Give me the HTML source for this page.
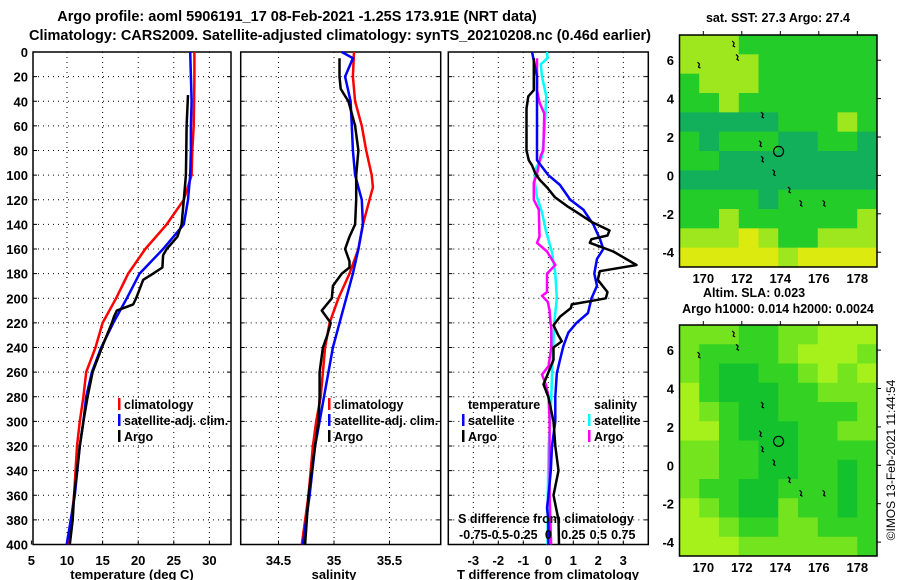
<!DOCTYPE html>
<html><head><meta charset="utf-8"><style>
html,body{margin:0;padding:0;background:#fff}
svg{display:block;font-family:"Liberation Sans",sans-serif;font-weight:bold}
</style></head><body>
<svg id="fig" width="900" height="580" viewBox="0 0 900 580">
<text x="297" y="21" font-size="14.5" text-anchor="middle">Argo profile: aoml 5906191_17 08-Feb-2021 -1.25S 173.91E (NRT data)</text>
<text x="29" y="40" font-size="14.5" textLength="622" lengthAdjust="spacingAndGlyphs">Climatology: CARS2009. Satellite-adjusted climatology: synTS_20210208.nc (0.46d earlier)</text>
<g id="g1"></g>
<g id="g2"></g>
<g id="g3"></g>
<g id="m1"></g>
<g id="m2"></g>
<text x="778" y="22" font-size="12.5" text-anchor="middle">sat. SST: 27.3 Argo: 27.4</text>
<text x="703" y="297" font-size="12.5">Altim. SLA: 0.023</text>
<text x="778" y="313" font-size="12.5" text-anchor="middle">Argo h1000: 0.014 h2000: 0.0024</text>
<text transform="translate(895,460) rotate(-90)" font-size="12" font-weight="normal" text-anchor="middle">©IMOS 13-Feb-2021 11:44:54</text>
</svg>
<script>
// ---------- data ----------
const depthTicks=[0,20,40,60,80,100,120,140,160,180,200,220,240,260,280,300,320,340,360,380,400];
const tTicks=[5,10,15,20,25,30];
const sTicks=[34.5,35,35.5];
const dTicks=[-3,-2,-1,0,1,2,3];
const sdTicks=[-0.75,-0.5,-0.25,0,0.25,0.5,0.75];
const sdTickLabels=["-0.75","-0.5","-0.25","0","0.25","0.5","0.75"];

const tClimDepth=[0,20,40,60,80,100,120,140,160,180,200,220,240,260,280,300,320,360,400];
const tClim=[27.9,27.9,27.85,27.8,27.6,27.5,26.4,24.0,21.0,18.6,16.9,15.0,14.0,12.7,12.3,11.8,11.4,11.0,10.2];
const tSat=[27.3,27.4,27.5,27.4,27.4,27.3,27.0,26.4,23.5,20.2,18.4,16.5,14.8,13.5,12.7,12.3,11.8,11.1,9.96];
const tArgoDepth=[35,60,80,100,120,140,150,160,165,175,180,185,200,205,210,215,220,240,260,280,300,320,340,360,380,400];
const tArgo=[27.0,26.8,26.75,26.7,26.4,26.1,25.5,24.0,23.5,23.4,22.1,20.7,19.7,19.3,17.0,16.6,16.3,14.9,13.6,12.9,12.3,11.8,11.4,11.0,10.8,10.4];

const sClimDepth=[0,20,40,60,80,100,110,120,140,160,180,200,220,240,260,280,300,320,360,400];
const sClim=[35.18,35.17,35.19,35.25,35.29,35.34,35.35,35.32,35.26,35.22,35.14,35.04,34.96,34.92,34.9,34.88,34.84,34.81,34.77,34.71];
const sSatDepth=[0,5,20,40,60,80,100,120,140,160,180,200,220,240,280,300,320,360,400];
const sSat=[35.07,35.17,35.10,35.15,35.16,35.17,35.19,35.25,35.26,35.22,35.17,35.11,35.05,34.99,34.91,34.87,34.83,34.78,34.72];
const sArgoDepth=[5,20,30,40,50,60,80,100,120,140,150,160,170,175,180,190,200,210,220,230,240,260,280,300,320,360,400];
const sArgo=[35.05,35.05,35.06,35.13,35.16,35.19,35.22,35.2,35.2,35.19,35.14,35.10,35.14,35.14,35.07,34.99,34.98,34.89,34.97,34.94,34.90,34.87,34.87,34.86,34.83,34.77,34.74];

const dTArgoDepth=[5,31,36,46,80,88,92,99,104,110,118,125,130,138,145,149,152,155,162,173,178,185,195,200,202,205,208,215,222,230,235,240,250,260,270,280,300,320,340,360,380,400];
const dTArgo=[-0.58,-0.58,-0.8,-0.87,-0.87,-0.78,-0.65,-0.51,-0.33,-0.05,0.27,0.74,1.13,1.73,2.45,2.37,1.73,1.66,2.6,3.53,2.06,1.98,2.37,2.3,1.78,0.94,0.9,0.47,0.21,0.40,0.54,0.21,0.21,0.01,-0.19,0.0,0.21,0.28,0.41,0.21,0.41,0.43];
const dTSatDepth=[0,5,20,40,60,80,88,92,100,108,120,128,140,152,160,168,180,190,200,212,220,228,239,250,261,280,300,320,340,360,370,380,400];
const dTSat=[-0.65,-0.6,-0.45,-0.45,-0.45,-0.45,-0.45,-0.3,0.0,0.47,0.88,1.4,1.8,2.07,2.2,1.95,1.84,1.95,1.73,1.59,1.13,0.8,0.6,0.47,0.34,0.28,0.28,0.15,0.1,0.01,-0.05,0.0,0.0];
const dSSatDepth=[0,5,10,20,36,64,85,95,104,118,130,145,163,180,200,220,260,280,300,320,360,400];
const dSSat=[-0.013,-0.008,-0.075,-0.063,-0.02,-0.038,-0.063,-0.128,-0.138,-0.113,-0.063,-0.025,0.038,0.07,0.085,0.06,0.038,0.03,0.02,0.003,-0.005,-0.008];
const dSArgoDepth=[5,31,41,50,80,84,99,106,120,128,150,155,162,173,180,195,198,203,210,218,225,240,255,262,270,280,300,320,360,400];
const dSArgo=[-0.113,-0.113,-0.088,-0.04,-0.05,-0.075,-0.113,-0.145,-0.145,-0.095,-0.088,-0.113,-0.013,0.07,-0.013,-0.013,-0.063,-0.005,0.013,0.02,0.03,0.03,0.003,-0.063,-0.025,0.003,0.013,0.013,0.013,0.028];

const lonTicks=[170,172,174,176,178];
const latTicks=[-4,-2,0,2,4,6];
const argoLon=173.91, argoLat=1.25;
const sstGrid=["YYYGGGGGGG","YYYYGGGGGG","GYYYGGGGGG","GGYGGGGGGG","TTTTTGGGYG","GTGGGTTGGT","GGTTTTTTTT","TTTTTTTTTT","GGGGTGGGGG","GGYGGGGGGY","YYYLYGGYYY","LLLLLYLLLL"];
const slaGrid=["BBBCCBBAAA","BCCCCBAAAB","BCDDCCBABA","ACDDDCCBBB","ABCDDCCCCB","AACDDDCCBB","BBCCDDCCCC","BBCCDDCCDC","BCCDDCCCDC","ABCDDBCCDC","AABCCBBCCC","AAABBBBBBC"];

// ---------- helpers ----------
const NS="http://www.w3.org/2000/svg";
function mk(parent,tag,attrs){const e=document.createElementNS(NS,tag);for(const k in attrs)e.setAttribute(k,attrs[k]);parent.appendChild(e);return e;}
const yTop=52, yBot=544.5;
const yD=d=>yTop+(d/400)*(yBot-yTop);

function panel(g,x0,x1,xScale,xt,xtLabels,leftLabels){
  depthTicks.forEach(d=>{ if(d>0&&d<400){const l=mk(g,'line',{x1:x0,x2:x1,y1:yD(d),y2:yD(d),stroke:'#000','stroke-width':1,'stroke-dasharray':'1 4'});
    }
    mk(g,'line',{x1:x0,x2:x0+4,y1:yD(d),y2:yD(d),stroke:'#000'});mk(g,'line',{x1:x1-4,x2:x1,y1:yD(d),y2:yD(d),stroke:'#000'});
    if(leftLabels){const t=mk(g,'text',{x:28,y:yD(d)+5,'font-size':13,'text-anchor':'end'});t.textContent=d;
      }
  });
  xt.forEach((v,i)=>{const x=xScale(v);
    if(x>x0+2&&x<x1-2){const l=mk(g,'line',{x1:x,x2:x,y1:yTop,y2:yBot,stroke:'#000','stroke-dasharray':'1 4'});
      }
    mk(g,'line',{x1:x,x2:x,y1:yBot-4,y2:yBot,stroke:'#000'});
    const t=mk(g,'text',{x:x,y:565,'font-size':13,'text-anchor':'middle'});t.textContent=xtLabels[i];
    
  });
  const r=mk(g,'rect',{x:x0,y:yTop,width:x1-x0,height:yBot-yTop,fill:'none',stroke:'#000','stroke-width':1.5});
  
}
function line(g,depths,vals,xs,color,name,w){
  const pts=depths.map((d,i)=>xs(vals[i]).toFixed(1)+','+yD(d).toFixed(1)).join(' ');
  const p=mk(g,'polyline',{points:pts,fill:'none',stroke:color,'stroke-width':w||2.5,'stroke-linejoin':'round'});
  
}
function legendEntry(g,x,y,color,label,name){
  mk(g,'rect',{x:x,y:y-11,width:2.5,height:12,fill:color});
  const t=mk(g,'text',{x:x+6,y:y,'font-size':12.5});t.textContent=label;
  
}
function label(g,x,y,txt,name,size){const t=mk(g,'text',{x:x,y:y,'font-size':size||13,'text-anchor':'middle'});t.textContent=txt;
  }

// ---------- panel 1: temperature ----------
const g1=document.getElementById('g1');
const xT=v=>67+(v-10)*7.12;
panel(g1,33,231,xT,tTicks,tTicks.map(String),true);
line(g1,tClimDepth,tClim,xT,'#f00','temp-climatology-line');
line(g1,tClimDepth,tSat,xT,'#00f','temp-satellite-line');
line(g1,tArgoDepth,tArgo,xT,'#000','temp-argo-line');
legendEntry(g1,118,409,'#f00','climatology','legend-climatology');
legendEntry(g1,118,425,'#00f','satellite-adj. clim.','legend-satellite');
legendEntry(g1,118,441,'#000','Argo','legend-argo');
label(g1,132,579,'temperature (deg C)','x-axis-title-temperature');

// ---------- panel 2: salinity ----------
const g2=document.getElementById('g2');
const xS=v=>334+(v-35)*111;
panel(g2,240.7,440.7,xS,sTicks,sTicks.map(String),false);
line(g2,sClimDepth,sClim,xS,'#f00','sal-climatology-line');
line(g2,sSatDepth,sSat,xS,'#00f','sal-satellite-line');
line(g2,sArgoDepth,sArgo,xS,'#000','sal-argo-line');
legendEntry(g2,328,409,'#f00','climatology','legend-climatology');
legendEntry(g2,328,425,'#00f','satellite-adj. clim.','legend-satellite');
legendEntry(g2,328,441,'#000','Argo','legend-argo');
label(g2,334,579,'salinity','x-axis-title-salinity');

// ---------- panel 3: differences ----------
const g3=document.getElementById('g3');
const xDT=v=>548.3+v*25;
const xDS=v=>548.3+v*100;
panel(g3,448.3,648.3,xDT,dTicks,dTicks.map(String),false);
line(g3,dSSatDepth,dSSat,xDS,'#0ff','sal-diff-satellite-line');
line(g3,dSArgoDepth,dSArgo,xDS,'#f0f','sal-diff-argo-line');
line(g3,dTSatDepth,dTSat,xDT,'#00f','temp-diff-satellite-line');
line(g3,dTArgoDepth,dTArgo,xDT,'#000','temp-diff-argo-line');
const tl=mk(g3,'text',{x:468,y:409,'font-size':12.5});tl.textContent='temperature';

const sl=mk(g3,'text',{x:594,y:409,'font-size':12.5});sl.textContent='salinity';

legendEntry(g3,462,425,'#00f','satellite','legend-temp-satellite');
legendEntry(g3,462,441,'#000','Argo','legend-temp-argo');
legendEntry(g3,588,425,'#0ff','satellite','legend-sal-satellite');
legendEntry(g3,588,441,'#f0f','Argo','legend-sal-argo');
label(g3,546,523,'S difference from climatology','s-axis-title',12.5);
sdTicks.forEach((v,i)=>{const t=mk(g3,'text',{x:xDS(v),y:539,'font-size':12.5,'text-anchor':'middle'});t.textContent=sdTickLabels[i];
  });
label(g3,548,579,'T difference from climatology','x-axis-title-tdiff');

// ---------- maps ----------
const sstCol={Y:'#9ee61e',G:'#24cc2a',T:'#12b05a',L:'#dcea10'};
const slaCol={A:'#a6f01c',B:'#74e41e',C:'#34d222',D:'#14c22e'};
function drawMap(id,grid,cols,top,bot,lat0y){
  const g=document.getElementById(id);
  const x0=679.5,x1=877,rows=grid.length,nc=grid[0].length;
  const cw=(x1-x0)/nc,ch=(bot-top)/rows;
  grid.forEach((row,r)=>{[...row].forEach((c,k)=>{
    const rc=mk(g,'rect',{x:x0+k*cw,y:top+r*ch,width:cw+0.5,height:ch+0.5,fill:cols[c]});
    });});
  const lx=v=>703.3+(v-170)*19.25, ly=v=>lat0y-v*19.2;
  [[173,3.3],[172.9,1.8],[173,1],[173.6,0.3],[174.4,-0.6],[175,-1.3],[176.2,-1.3],[171.7,6.3],[169.7,5.9],[171.5,7]].forEach(p=>{
    const c=mk(g,'path',{d:`M${lx(p[0])},${ly(p[1])} l2,2 l-1,3 l2,1`,fill:'none',stroke:'#000','stroke-width':1.2});
    });
  const ci=mk(g,'circle',{cx:lx(argoLon),cy:ly(argoLat),r:5,fill:'none',stroke:'#000','stroke-width':1.2});
  
  const fr=mk(g,'rect',{x:x0,y:top,width:x1-x0,height:bot-top,fill:'none',stroke:'#000','stroke-width':1.5});
  
  latTicks.forEach(v=>{const y=ly(v);mk(g,'line',{x1:x1,x2:x1+4,y1:y,y2:y,stroke:'#000'});
    const t=mk(g,'text',{x:674,y:y+5,'font-size':13,'text-anchor':'end'});t.textContent=v;
    });
  lonTicks.forEach(v=>{const x=lx(v);mk(g,'line',{x1:x,x2:x,y1:top-4,y2:top,stroke:'#000'});
    const t=mk(g,'text',{x:x,y:bot+16,'font-size':13,'text-anchor':'middle'});t.textContent=v;
    });
}
drawMap('m1',sstGrid,sstCol,35,267,175.4);
drawMap('m2',slaGrid,slaCol,325,556,465.3);
</script>
</body></html>
